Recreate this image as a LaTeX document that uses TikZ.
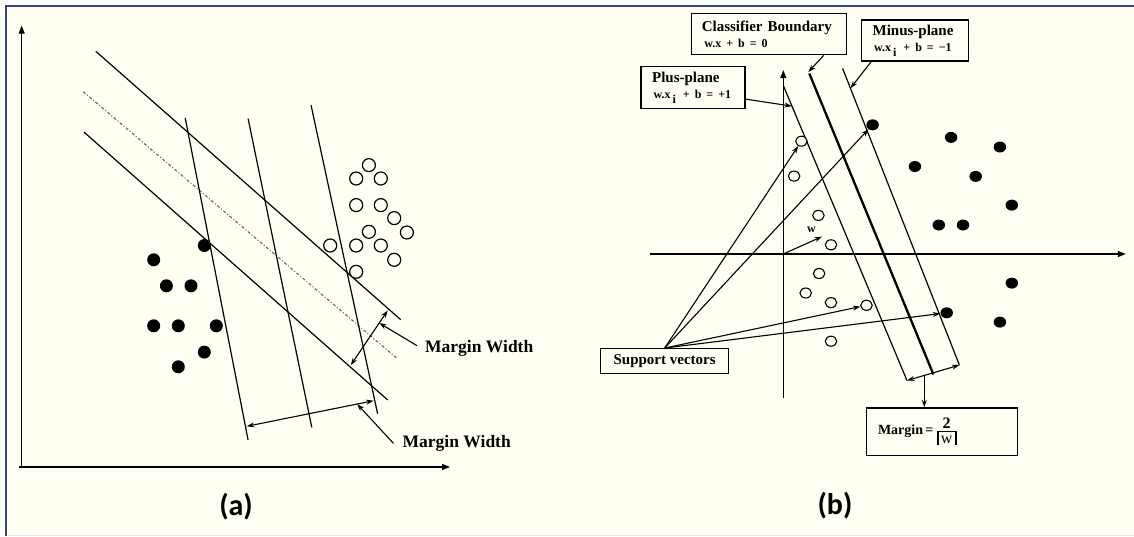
\documentclass[tikz,border=0pt]{standalone}
\usepackage{fontspec}
\setmainfont{Liberation Serif}
\newfontfamily\capfont{Carlito}
\usetikzlibrary{arrows.meta,calc,shapes.geometric}
\definecolor{paper}{RGB}{255,255,244}
\definecolor{frameblue}{RGB}{52,68,125}
\definecolor{framegray}{RGB}{226,229,233}
\newcommand\eqfont{\bfseries\fontsize{12}{16}\selectfont}
\newcommand\mbfont{\bfseries\fontsize{14}{16}\selectfont}
\newcommand\normbar{\rule[-2pt]{2pt}{13.5pt}}

\begin{document}
\begin{tikzpicture}[x=1pt,y=-1pt,
  ln/.style={line width=1.2pt},
  bold line/.style={line width=2.3pt},
  tip/.style={line width=1.1pt,-{Stealth[length=7.5pt,width=5pt]}},
  dtip/.style={line width=1.1pt,{Stealth[length=7.5pt,width=5pt]}-{Stealth[length=7.5pt,width=5pt]}},
  axis/.style={line width=1.2pt,-{Triangle[length=8pt,width=6pt]}},
  dashdot/.style={line width=1.1pt,black!60,dash pattern=on 3pt off 2pt on 1pt off 2pt},
  hollowA/.style={circle,draw,line width=1.2pt,minimum size=13pt,inner sep=0pt,fill=paper},
  solidA/.style={circle,fill=black,minimum size=13pt,inner sep=0pt},
  hollowB/.style={ellipse,draw,line width=1.1pt,minimum width=11.5pt,minimum height=10pt,inner sep=0pt,fill=paper},
  solidB/.style={ellipse,fill=black,minimum width=12.5pt,minimum height=11pt,inner sep=0pt},
  mwtext/.style={font=\bfseries\fontsize{17.5}{20}\selectfont,inner sep=0pt,anchor=west},
  label box/.style={draw,line width=1.3pt,align=left,font=\bfseries\fontsize{15}{16}\selectfont,inner ysep=0pt},
  panel tag/.style={font=\capfont\bfseries\fontsize{30}{32}\selectfont,inner sep=0pt}
]
\useasboundingbox (0,0) rectangle (1134,536);

% sheet and frame
\fill[white] (0,0) rectangle (1134,536);
\fill[paper] (7,7) rectangle (1134,534);
\draw[frameblue,line width=1.6pt] (5,6.2) -- (1134,6.2);
\draw[frameblue,line width=1.6pt] (6.2,6) -- (6.2,536);
\draw[framegray,line width=1pt] (7,535.2) -- (1134,535.2);

% ===================== left panel =====================
\coordinate (oa) at (21.7,467);
\draw[axis] (oa) -- (21.7,25.6);
\draw[axis] (19,467) -- (450,467);

% separating lines
\draw[ln] (95.8,51.3) -- (400.7,319.7);
\draw[dashdot] (83.2,91.6) -- (397.8,359.0);
\draw[ln] (83.9,132.0) -- (387.7,400.0);
\draw[ln] (185.2,117.9) -- (248.1,440.0);
\draw[ln] (248.1,118.6) -- (311.8,427.4);
\draw[ln] (311.0,105.0) -- (377.6,413.7);

% class samples
\foreach \p in {(204.3,245.5),(153.7,259.8),(166.4,285.8),(191.0,285.8),(153.7,325.8),
                (178.3,325.8),(216.3,325.8),(204.3,352.1),(178.3,366.8)}
  \node[solidA] at \p {};
\foreach \p in {(368.9,165.1),(356.2,178.5),(380.8,178.5),(356.2,205.1),(380.8,205.1),
                (394.2,218.1),(368.9,231.8),(406.9,232.5),(330.2,245.5),(356.2,245.5),
                (380.8,245.5),(394.2,259.8),(356.2,271.8)}
  \node[hollowA] at \p {};

% margin widths
\coordinate (m1a) at (387.7,310.4);
\coordinate (m1b) at (350.8,365.1);
\coordinate (m2a) at (246.7,426.3);
\coordinate (m2b) at (373.6,400.7);
\draw[dtip] (m1a) -- (m1b);
\draw[dtip] (m2a) -- (m2b);
\node[mwtext] (mw1) at (425,348.7) {Margin Width};
\node[mwtext] (mw2) at (402.5,443.4) {Margin Width};
\coordinate (p1) at ($(m1a)!0.23!(m1b)$);
\coordinate (p2) at ($(m2a)!0.87!(m2b)$);
\draw[tip] ($(mw1.west)+(-8,-3)$) -- (p1);
\draw[tip] ($(mw2.west)+(-9,0)$) -- (p2);

\node[panel tag] (ta) at (236,507) {(a)};

% ===================== right panel =====================
\coordinate (ob) at (783.3,254);
\draw[axis] (783.3,398.3) -- (783.3,70.1);
\draw[axis] (649.5,254) -- (1125.8,254);

% plus-plane, boundary, minus-plane
\coordinate (pA1) at (783.3,85.5);
\coordinate (pA2) at (907.0,380.5);
\coordinate (bA1) at (809.3,73.5);
\coordinate (bA2) at (933.4,374.4);
\coordinate (mA1) at (842.6,68.4);
\coordinate (mA2) at (959.4,365.1);
\draw[ln] (pA1) -- (pA2);
\draw[bold line] (bA1) -- (bA2);
\draw[ln] (mA1) -- (mA2);

% samples
\node[hollowB] (o1) at (801.4,141.2) {};
\node[hollowB] (o2) at (794.1,176.1) {};
\node[hollowB] (o3) at (818.4,215.4) {};
\node[hollowB] (o4) at (831.0,244.8) {};
\node[hollowB] (o5) at (819.1,273.5) {};
\node[hollowB] (o6) at (805.7,293.0) {};
\node[hollowB] (o7) at (831.0,302.6) {};
\node[hollowB] (o8) at (866.5,305.3) {};
\node[hollowB] (o9) at (831.0,341.2) {};
\node[solidB] (f1) at (872.6,124.8) {};
\node[solidB] (f2) at (951.1,137.4) {};
\node[solidB] (f3) at (999.9,147.0) {};
\node[solidB] (f4) at (914.9,166.5) {};
\node[solidB] (f5) at (975.7,176.4) {};
\node[solidB] (f6) at (1011.8,205.1) {};
\node[solidB] (f7) at (938.8,225.0) {};
\node[solidB] (f8) at (963.0,225.0) {};
\node[solidB] (f9) at (1011.8,283.1) {};
\node[solidB] (f10) at (946.7,312.8) {};
\node[solidB] (f11) at (999.9,322.1) {};

% normal vector
\coordinate (wend) at (822.0,236.6);
\draw[tip] (ob) -- (wend);
\node[font=\bfseries\fontsize{12}{12}\selectfont,inner sep=0pt] (wl) at (811.5,229.5) {w};

% label boxes
\node[label box,minimum width=154.4pt,minimum height=41pt,inner xsep=10pt,text width=134.4pt] (cb) at (769,34.2)
  {Classifier Boundary\\{\eqfont\hspace{2.5pt}w.x + b = 0}};
\node[label box,minimum width=106.6pt,minimum height=41pt,inner xsep=10.8pt,text width=85pt] (mp) at (915.1,40.4)
  {Minus-plane\\{\eqfont\hspace{1.5pt}w.x\,\raisebox{-5pt}{i}\, + b = −1}};
\node[label box,minimum width=103.8pt,minimum height=42pt,inner xsep=11pt,text width=81.8pt] (pp) at (693,87.7)
  {Plus-plane\\{\eqfont\hspace{1.5pt}w.x\,\raisebox{-5pt}{i}\, + b = +1}};
\node[label box,minimum width=128.1pt,minimum height=24.6pt,inner xsep=4pt,align=center] (sv) at (664.65,361)
  {Support vectors};
\node[label box,minimum width=150.8pt,minimum height=47.5pt,inner xsep=11.5pt,text width=127.8pt,font=\mbfont] (mb) at (941.9,431.65)
  {Margin\,=\,$\frac{\hbox{\fontsize{16}{16}\bfseries 2}}{\hbox{\normbar\kern2pt\fontsize{16}{16}\mdseries w\kern2pt\normbar}}$};

% pointers from the labels
\draw[tip] ($(pp.east)+(0,11.4)$) -- ($(pA1)!0.07!(pA2)$);
\draw[tip] ($(cb.south east)+(-23.1,0)$) -- ($(bA1)+(-1,-1.5)$);
\draw[tip] ($(mp.south west)+(10.1,0)$) -- ($(mA1)!0.067!(mA2)$);
\draw[tip] (sv.north) -- (o1);
\draw[tip] (sv.north) -- (f1);
\draw[tip] (sv.north) -- (o8);
\draw[tip] (sv.north) -- (f10);

% margin
\draw[dtip] (pA2) -- (mA2);
\coordinate (mstart) at ($(pA2)!0.33!(mA2)$);
\draw[tip] (mstart) -- (mstart |- mb.north);

\node[panel tag] (tb) at (835,506) {(b)};
\end{tikzpicture}
\end{document}
